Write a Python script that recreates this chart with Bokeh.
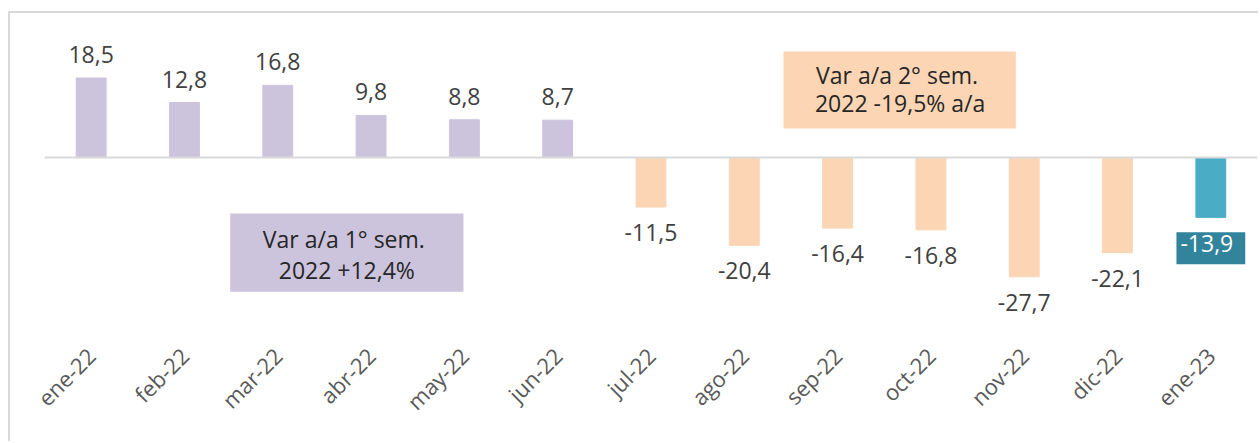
import math
from bokeh.plotting import figure
from bokeh.models import ColumnDataSource, Range1d, FactorRange, Span, BoxAnnotation
from bokeh.core.properties import value
from bokeh.embed import file_html
from bokeh.resources import INLINE

months = ["ene-22", "feb-22", "mar-22", "abr-22", "may-22", "jun-22", "jul-22",
          "ago-22", "sep-22", "oct-22", "nov-22", "dic-22", "ene-23"]
values = [18.5, 12.8, 16.8, 9.8, 8.8, 8.7, -11.5, -20.4, -16.4, -16.8, -27.7, -22.1, -13.9]
PURPLE, PEACH, TEAL, TEAL_DARK = "#CCC3DC", "#FCD5B5", "#4BACC6", "#31849B"
bar_colors = [PURPLE] * 6 + [PEACH] * 6 + [TEAL]
note1 = "Var  a/a 1° sem.\n2022 +12,4%"
note2 = "Var  a/a 2° sem.\n2022 -19,5% a/a"

FONT = "Open Sans"
labels = [f"{v:.1f}".replace(".", ",") for v in values]

p = figure(x_range=FactorRange(*months, range_padding=0), y_range=Range1d(-40.9, 33.5),
           width=1250, height=430, output_backend="svg", toolbar_location=None,
           min_border_left=34, min_border_right=3, min_border_top=0, min_border_bottom=110)
p.styles = {"border-left": "2px solid #D9D9D9", "border-top": "2px solid #D9D9D9",
            "margin-top": "11px", "margin-left": "8px"}
p.outline_line_color = None
p.grid.visible = False
p.yaxis.visible = False
p.xaxis.axis_line_color = None
p.xaxis.major_tick_line_color = None
p.xaxis.minor_tick_line_color = None
p.xaxis.major_label_orientation = math.pi / 4
p.xaxis.major_label_text_font = FONT
p.xaxis.major_label_text_font_size = "22px"
p.xaxis.major_label_text_color = "#595959"
p.xaxis.major_label_standoff = 12

src = ColumnDataSource(dict(x=months, top=values, color=bar_colors, label=labels))
p.vbar(x="x", top="top", bottom=0, width=0.32, color="color", source=src)
p.add_layout(Span(location=0, dimension="width", line_color="#D9D9D9", line_width=2))

pos = ColumnDataSource(dict(x=[m for m, v in zip(months, values) if v > 0],
                            y=[v for v in values if v > 0],
                            t=[l for l, v in zip(labels, values) if v > 0]))
neg = ColumnDataSource(dict(x=[m for m, v in zip(months[:-1], values[:-1]) if v < 0],
                            y=[v for v in values[:-1] if v < 0],
                            t=[l for l, v in zip(labels[:-1], values[:-1]) if v < 0]))
p.text(x="x", y="y", text="t", source=pos, text_align="center", text_baseline="bottom",
       y_offset=-15, text_font=value(FONT), text_font_size="23px", text_color="#404040")
p.text(x="x", y="y", text="t", source=neg, text_align="center", text_baseline="top",
       y_offset=17, text_font=value(FONT), text_font_size="23px", text_color="#404040")

last = ColumnDataSource(dict(x=[months[-1]], y=[values[-1]], t=[labels[-1]]))
p.text(x="x", y="y", text="t", source=last, text_align="center", text_baseline="top",
       y_offset=15, text_font=value(FONT), text_font_size="23px", text_color="white",
       background_fill_color=TEAL_DARK, padding=[4, 12, 3, 12])

# annotation boxes
p.add_layout(BoxAnnotation(left=1.99, right=4.49, top=-13.0, bottom=-31.2,
                           fill_color=PURPLE, fill_alpha=1, line_color=None, level="underlay"))
p.add_layout(BoxAnnotation(left=7.92, right=10.41, top=24.65, bottom=6.74,
                           fill_color=PEACH, fill_alpha=1, line_color=None, level="underlay"))
p.text(x=[3.24], y=[-22.1], text=[note1], text_align="center", text_baseline="middle",
       y_offset=2, text_font=value(FONT), text_font_size="23px", text_color="#262626",
       text_line_height=0.95)
p.text(x=[9.17], y=[15.7], text=[note2], text_align="center", text_baseline="middle",
       y_offset=-1, text_font=value(FONT), text_font_size="23px", text_color="#262626",
       text_line_height=0.9)

open("out.html", "w").write(file_html(p, INLINE))
